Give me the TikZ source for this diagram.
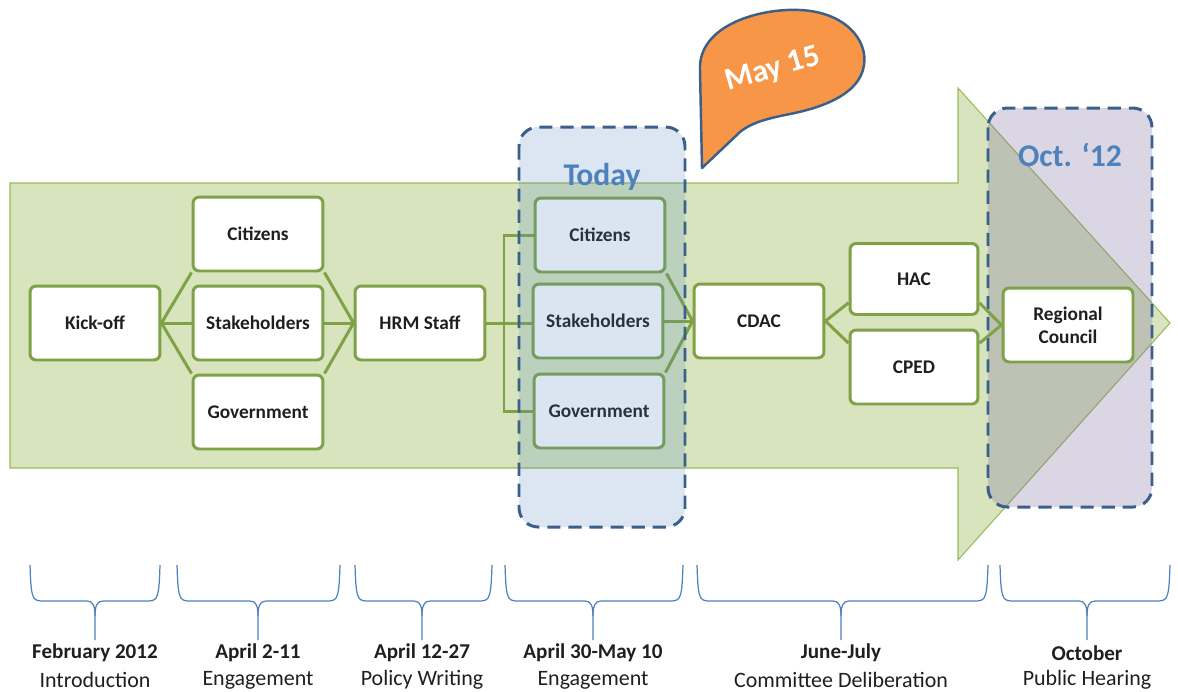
\documentclass[tikz,border=0pt]{standalone}
\usepackage{fontspec}
\setmainfont{Carlito}
\usetikzlibrary{calc}

\definecolor{arrowfill}{HTML}{D7E4BD}
\definecolor{arrowline}{HTML}{9BBB59}
\definecolor{boxline}{HTML}{7FA246}
\definecolor{dashblue}{HTML}{3A5F8B}
\definecolor{todayfill}{HTML}{4F81BD}
\definecolor{octfill}{HTML}{7A6A9E}
\definecolor{bubblefill}{HTML}{F79646}
\definecolor{bracecol}{HTML}{4F81BD}
\definecolor{labelblue}{HTML}{4F81BD}
\definecolor{inktext}{HTML}{1F1F1F}

\pgfdeclarelayer{bg}
\pgfdeclarelayer{mid}
\pgfsetlayers{bg,mid,main}

\begin{document}
\begin{tikzpicture}[x=0.02cm, y=-0.02cm,
  stagebox/.style={draw=boxline, line width=1.7pt, fill=white, rounded corners=3.5pt,
    minimum width=2.6cm, minimum height=1.48cm, align=center, inner sep=2pt,
    font=\fontsize{11}{12.5}\selectfont\bfseries, text=inktext},
  link/.style={draw=boxline, line width=1.7pt},
  window/.style={draw=dashblue, line width=1.7pt, dash pattern=on 7.5pt off 4.5pt,
    rounded corners=11pt},
  brace/.style={draw=bracecol, line width=0.7pt},
  datelabel/.style={font=\fontsize{12}{14}\selectfont\bfseries, text=inktext, inner sep=0pt},
  sublabel/.style={font=\fontsize{12.5}{14}\selectfont, text=inktext, inner sep=0pt},
  windowtitle/.style={font=\fontsize{18}{20}\selectfont\bfseries, text=labelblue, inner sep=0pt}
]
\useasboundingbox (0,0) rectangle (1178,691);

% big timeline arrow and the October window behind everything
\begin{pgfonlayer}{bg}
  \path[fill=arrowfill, draw=arrowline, line width=0.6pt]
    (10,183) -- (958,183) -- (958,88) -- (1170,323) -- (958,560) -- (958,468) -- (10,468) -- cycle;
  \path[window, fill=octfill, fill opacity=0.28] (988,108) rectangle (1152,507);
\end{pgfonlayer}

% process stages
\node[stagebox] (kick) at (95,323) {Kick-off};
\node[stagebox] (cit1) at (258,234) {Citizens};
\node[stagebox] (stk1) at (258,323) {Stakeholders};
\node[stagebox] (gov1) at (258,412) {Government};
\node[stagebox] (hrm)  at (420,323) {HRM Staff};
\node[stagebox] (cit2) at (600,235) {Citizens};
\node[stagebox] (stk2) at (598,321) {Stakeholders};
\node[stagebox] (gov2) at (599,411) {Government};
\node[stagebox] (cdac) at (759,321) {CDAC};
\node[stagebox, minimum width=2.56cm, minimum height=1.42cm] (hac)  at (914,279) {HAC};
\node[stagebox, minimum width=2.56cm, minimum height=1.48cm] (cped) at (914,367) {CPED};
\node[stagebox, font=\fontsize{11}{13}\selectfont\bfseries] (rc) at (1068,325) {Regional\\Council};

% links between stages
\begin{pgfonlayer}{mid}
  \draw[link] (kick.east) -- (cit1.south west);
  \draw[link] (kick.east) -- (stk1.west);
  \draw[link] (kick.east) -- (gov1.north west);
  \draw[link] (cit1.south east) -- (hrm.west);
  \draw[link] (stk1.east) -- (hrm.west);
  \draw[link] (gov1.north east) -- (hrm.west);
  \coordinate (bus) at (504,323);
  \draw[link] (hrm.east) -- (hrm.east -| stk2.west);
  \draw[link] (cit2.west) -| (bus) |- (gov2.west);
  \draw[link] (cit2.south east) -- (cdac.west);
  \draw[link] (stk2.east) -- (cdac.west);
  \draw[link] (gov2.north east) -- (cdac.west);
  \draw[link] (cdac.east) -- (hac.200);
  \draw[link] (cdac.east) -- (cped.160);
  \draw[link] (hac.-20) -- (rc.west);
  \draw[link] (cped.20) -- (rc.west);
\end{pgfonlayer}

% current window
\path[window, fill=todayfill, fill opacity=0.2] (519,127) rectangle (685,527);
\node[windowtitle] (today) at (602,177) {Today};
\node[windowtitle] (oct) at (1070,155) {Oct. ‘12};

% date callout
\path[fill=bubblefill, draw=dashblue, line width=1.4pt, line join=round]
  (702,168) -- (700,70)
  .. controls (698,25) and (760,8) .. (800,10)
  .. controls (845,12) and (868,40) .. (864,65)
  .. controls (860,95) and (820,108) .. (790,114)
  .. controls (770,118) and (752,122) .. (740,132) -- cycle;
\node[font=\fontsize{18}{20}\selectfont\bfseries, text=white, rotate=16, inner sep=0pt]
  (may) at (773,70) {May 15};

% period braces and their labels
\foreach \a/\b/\m/\d/\s [count=\i] in {
    30/160/95/{February 2012}/{Introduction},
    177/340/258/{April 2-11}/{Engagement},
    355/492/422/{April 12-27}/{Policy Writing},
    505/683/593/{April 30-May 10}/{Engagement},
    697/988/841/{June-July}/{Committee Deliberation},
    1000/1170/1087/{October}/{Public Hearing}} {
  \draw[brace] (\a,565) .. controls (\a+1,597) and (\a+2,601) .. (\a+12,601)
    -- (\m-8,601) .. controls (\m-2,601) and (\m,606) .. (\m,616) -- (\m,640);
  \draw[brace] (\b,565) .. controls (\b-1,597) and (\b-2,601) .. (\b-12,601)
    -- (\m+8,601) .. controls (\m+2,601) and (\m,606) .. (\m,616);
  \node[datelabel] (date\i) at (\m,653) {\d};
  \node[sublabel] (phase\i) at (\m,680) {\s};
}
\end{tikzpicture}
\end{document}
